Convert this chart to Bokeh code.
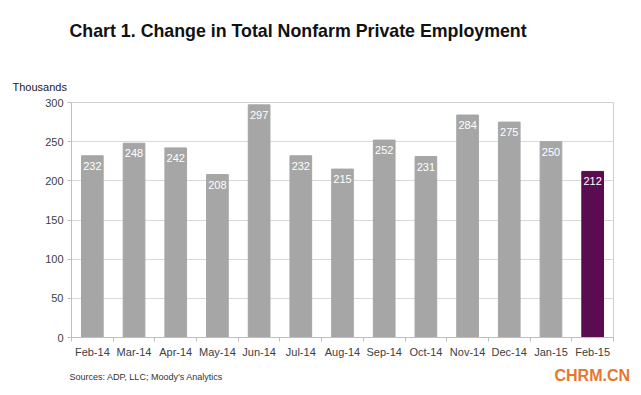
from bokeh.plotting import figure
from bokeh.models import ColumnDataSource, Label, FixedTicker, Range1d
from bokeh.core.properties import value
from bokeh.embed import file_html
from bokeh.resources import INLINE

months = ["Feb-14", "Mar-14", "Apr-14", "May-14", "Jun-14", "Jul-14", "Aug-14",
          "Sep-14", "Oct-14", "Nov-14", "Dec-14", "Jan-15", "Feb-15"]
values = [232, 248, 242, 208, 297, 232, 215, 252, 231, 284, 275, 250, 212]
y_ticks = [0, 50, 100, 150, 200, 250, 300]

title_text = "Chart 1. Change in Total Nonfarm Private Employment"
unit_text = "Thousands"
source_text = "Sources: ADP, LLC; Moody\u2019s Analytics"
mark_text = "CHRM.CN"

grey = "#A6A6A6"
purple = "#5B0B4F"
colors = [grey] * (len(months) - 1) + [purple]
xs = [i + 0.5 for i in range(len(months))]
FONT = "Liberation Sans"

src = ColumnDataSource(dict(x=xs, v=values, c=colors, lbl=[str(v) for v in values]))
p = figure(width=641, height=395, output_backend="svg", toolbar_location=None,
           x_range=Range1d(0, len(months)), y_range=Range1d(0, 300),
           min_border_left=71, min_border_right=28, min_border_top=102, min_border_bottom=58)
p.background_fill_color = "white"
p.border_fill_color = "white"
p.outline_line_color = "#D0D0D0"

p.vbar(x="x", top="v", width=0.52, color="c", source=src)
p.text(x="x", y="v", text="lbl", source=src, text_color="white", text_font_size="11px",
       text_align="center", text_baseline="top", y_offset=6, text_font=value(FONT))

p.xaxis.ticker = FixedTicker(ticks=xs, minor_ticks=list(range(len(months) + 1)))
p.xaxis.major_label_overrides = {x: m for x, m in zip(xs, months)}
p.xaxis.major_tick_line_color = None
p.xaxis.major_tick_out = 4
p.xaxis.major_tick_in = 0
p.xaxis.minor_tick_line_color = "#BFBFBF"
p.xaxis.minor_tick_out = 4
p.xaxis.minor_tick_in = 0
p.xaxis.axis_line_color = "#BFBFBF"
p.xaxis.major_label_text_font_size = "11px"
p.xaxis.major_label_text_font = FONT
p.xaxis.major_label_text_color = "#404040"
p.xaxis.major_label_standoff = 4

p.yaxis.ticker = FixedTicker(ticks=y_ticks)
p.yaxis.minor_tick_line_color = None
p.yaxis.major_tick_line_color = "#BFBFBF"
p.yaxis.major_tick_out = 4
p.yaxis.major_tick_in = 0
p.yaxis.axis_line_color = "#BFBFBF"
p.yaxis.major_label_text_font_size = "11px"
p.yaxis.major_label_text_font = FONT
p.yaxis.major_label_text_color = "#404040"
p.yaxis.major_label_standoff = 4

p.xgrid.grid_line_color = None
p.ygrid.grid_line_color = "#D9D9D9"
p.ygrid.ticker = FixedTicker(ticks=y_ticks)

p.add_layout(Label(x=-2, y=71.5, x_units="screen", y_units="screen", text=title_text,
                   text_font=FONT, text_font_style="bold", text_font_size="17.8px",
                   text_color="#111111", text_baseline="alphabetic"), "above")
p.add_layout(Label(x=-59, y=-4, x_units="screen", y_units="screen", text=unit_text,
                   text_font=FONT, text_font_size="11px", text_color="#222222",
                   text_baseline="alphabetic"), "above")
p.add_layout(Label(x=-2, y=-6, x_units="screen", y_units="screen", text=source_text,
                   text_font=FONT, text_font_size="9px", text_color="#333333",
                   text_baseline="alphabetic"), "below")
p.add_layout(Label(x=483, y=12, x_units="screen", y_units="screen", text=mark_text,
                   text_font=FONT, text_font_style="bold", text_font_size="16px",
                   text_color="#E8772E", text_baseline="alphabetic"), "below")

open("out.html", "w").write(file_html(p, INLINE))
